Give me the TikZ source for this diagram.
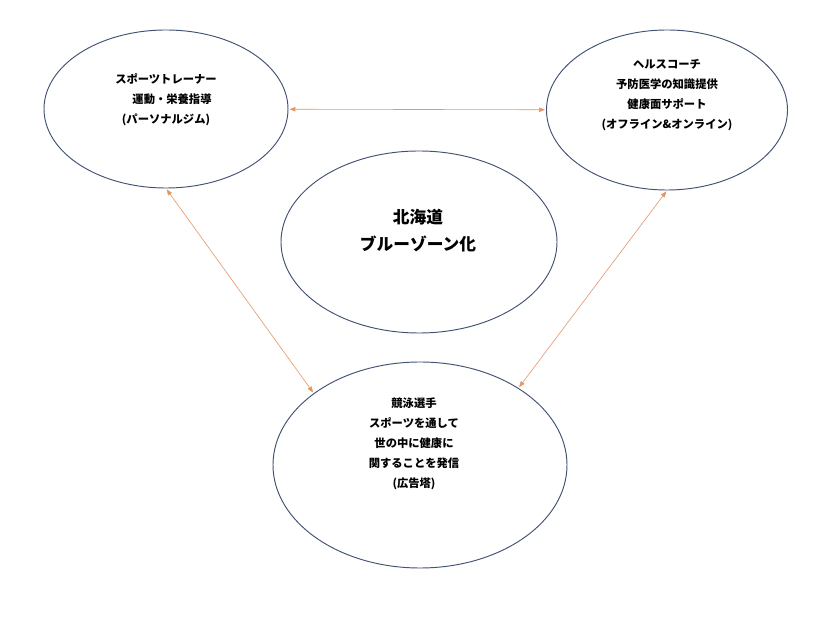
\documentclass[tikz,border=0pt]{standalone}
\usepackage{fontspec}
\setmainfont{Noto Sans CJK JP}
\usetikzlibrary{arrows.meta,shapes.geometric}
\definecolor{ringcol}{RGB}{66,82,115}
\definecolor{arrcol}{RGB}{228,150,100}
\tikzset{
  ring/.style={ellipse, draw=ringcol, line width=0.95pt, inner sep=0pt},
  label/.style={align=center, font=\bfseries\fontsize{11.3}{20}\selectfont, inner sep=0pt},
  biglabel/.style={align=center, font=\bfseries\fontsize{16.7}{27}\selectfont, inner sep=0pt},
  link/.style={draw=arrcol, line width=0.6pt, {Triangle[length=6pt,width=4.5pt]}-{Triangle[length=6pt,width=4.5pt]}, shorten <=1pt, shorten >=1pt}
}
\begin{document}
\begin{tikzpicture}[x=1pt,y=-1pt]
\useasboundingbox (0,0) rectangle (828,617);
\node[ring, minimum width=244pt, minimum height=158pt] (e1) at (166,109) {};
\node[ring, minimum width=241pt, minimum height=160pt] (e2) at (667,110) {};
\node[ring, minimum width=276pt, minimum height=182pt] (e3) at (419,242) {};
\node[ring, minimum width=294pt, minimum height=206pt] (e4) at (420,465) {};

\node[label] (t1) at (166,100) {スポーツトレーナー\\\hspace*{12pt}運動・栄養指導\\(パーソナルジム)};
\node[label] (t2) at (667,95) {ヘルスコーチ\\予防医学の知識提供\\健康面サポート\\(オフライン\&オンライン)};
\node[biglabel] (t3) at (418,231) {北海道\\ブルーゾーン化};
\node[label] (t4) at (414,444) {競泳選手\\スポーツを通して\\世の中に健康に\\関することを発信\\(広告塔)};

\draw[link] (e1) -- (e2);
\draw[link] (e1.south) -- (e4.146);
\draw[link] (e2.south) -- (e4.38);
\end{tikzpicture}
\end{document}
